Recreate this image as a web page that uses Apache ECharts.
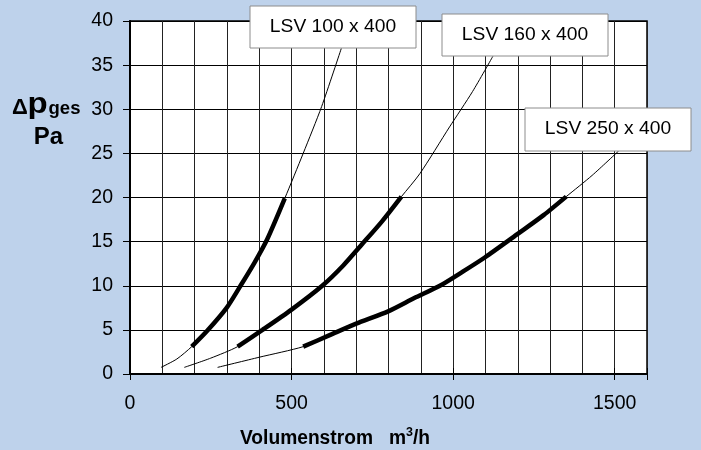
<!DOCTYPE html>
<html>
<head>
<meta charset="utf-8">
<script src="https://cdn.jsdelivr.net/npm/echarts@6/dist/echarts.min.js"></script>
<style>
html,body{margin:0;padding:0;background:#bed2eb;}
#c{width:701px;height:450px;}
</style>
</head>
<body>
<div id="c"></div>
<script>
// Data (x: Volumenstrom m3/h, y: Δp Pa)
const lsv100 = [[96,0.75],[145,1.7],[191,3.1],[239,4.9],[299,7.5],[342,10.0],[385,12.6],[425,15.3],[479,19.9],[536,25.0],[593,30.3],[654,36.9]];
const lsv160 = [[168,0.75],[250,1.8],[333,3.1],[410,5.0],[500,7.3],[595,10.0],[660,12.3],[718,14.7],[780,17.3],[840,20.1],[897,22.7],[989,28.0],[1060,32.0],[1123,36.0]];
const lsv250 = [[271,0.75],[400,1.9],[536,3.1],[618,4.4],[700,5.7],[799,7.1],[880,8.6],[959,10.0],[1030,11.6],[1098,13.2],[1201,15.9],[1280,18.0],[1350,20.1],[1430,22.5],[1513,25.3]];
// ranges of the bold (operating) part of each curve
const thick100 = [191, 479];
const thick160 = [333, 840];
const thick250 = [536, 1350];
const curveNames = ['LSV 100 x 400', 'LSV 160 x 400', 'LSV 250 x 400'];
const xTicks = [0, 500, 1000, 1500];
const yTicks = [0, 5, 10, 15, 20, 25, 30, 35, 40];

const FONT = '"Liberation Sans", Arial, sans-serif';
const curves = [lsv100, lsv160, lsv250];
const thicks = [thick100, thick160, thick250];

const series = [];
curves.forEach((c, i) => {
  series.push({type:'line', data:c, smooth:0.25, symbol:'none', xAxisIndex:0, yAxisIndex:0,
    lineStyle:{color:'#000', width:1}, z:3, silent:true});
  series.push({type:'line', data:c.filter(p => p[0] >= thicks[i][0] && p[0] <= thicks[i][1]), smooth:0.25, symbol:'none',
    xAxisIndex:0, yAxisIndex:0, lineStyle:{color:'#000', width:4.5, cap:'butt'}, z:4, silent:true});
});

const chart = echarts.init(document.getElementById('c'), null, {renderer:'canvas'});
const boxes = [
  {x:250, y:6, w:166, h:42},
  {x:442, y:14, w:166, h:42},
  {x:525, y:108, w:166, h:43}
];
const graphic = [];
boxes.forEach((b, i) => {
  graphic.push({type:'rect', shape:{x:b.x, y:b.y, width:b.w, height:b.h}, z:100,
    style:{fill:'#fff', stroke:'#8c8c8c', lineWidth:1}});
  graphic.push({type:'text', x:b.x + b.w/2, y:b.y + b.h/2, z:101, scaleX:1.1,
    style:{text:curveNames[i], fill:'#000', font:'17.5px ' + FONT, textAlign:'center', textVerticalAlign:'middle'}});
});
graphic.push({type:'text', x:12, y:108, z:101,
  style:{text:'Δ', font:'bold 22px ' + FONT, fill:'#000', textVerticalAlign:'middle'}});
graphic.push({type:'text', x:27.5, y:105, z:101, scaleX:1.1,
  style:{text:'p', font:'bold 30px ' + FONT, fill:'#000', textVerticalAlign:'middle'}});
graphic.push({type:'text', x:48.5, y:109, z:101, scaleX:1.03,
  style:{text:'ges', font:'bold 18px ' + FONT, fill:'#000', textVerticalAlign:'middle'}});
graphic.push({type:'text', x:48.5, y:137, z:101,
  style:{text:'Pa', font:'bold 24px ' + FONT, fill:'#000', textAlign:'center', textVerticalAlign:'middle'}});
graphic.push({type:'text', x:335, y:438, z:101, scaleX:0.96,
  style:{text:'{a|Volumenstrom   m}{sup|3}{a|/h}', textAlign:'center', textVerticalAlign:'middle',
    rich:{a:{fontSize:20, fontWeight:'bold', fontFamily:FONT, fill:'#000'},
          sup:{fontSize:13, fontWeight:'bold', fontFamily:FONT, fill:'#000', padding:[0,0,11,0]}}}});

chart.setOption({
  backgroundColor:'#bed2eb',
  animation:false,
  grid:{left:130, right:54, top:21, bottom:76, show:true, backgroundColor:'#fff', borderColor:'#000', borderWidth:1.5},
  xAxis:[
    {type:'value', min:0, max:1600, interval:100, position:'bottom',
      axisLine:{show:true, onZero:false, lineStyle:{color:'#000', width:2}},
      axisTick:{show:false}, axisLabel:{show:false},
      splitLine:{show:true, lineStyle:{color:'#222', width:1}}},
    {type:'value', min:0, max:1600, interval:500, position:'bottom',
      axisLine:{show:false}, splitLine:{show:false},
      axisTick:{show:true, inside:true, length:6, lineStyle:{color:'#000', width:1}},
      axisLabel:{show:true, margin:20, fontSize:19.5, fontFamily:FONT, color:'#000',
        formatter: v => xTicks.indexOf(v) >= 0 ? String(v) : ''}},
    {type:'value', min:0, max:1600, interval:500, position:'bottom',
      axisLine:{show:false}, splitLine:{show:false},
      axisTick:{show:true, inside:false, length:6, lineStyle:{color:'#000', width:1}},
      axisLabel:{show:false}}
  ],
  yAxis:{type:'value', min:0, max:40, interval:5,
    axisLine:{show:true, lineStyle:{color:'#000', width:2}},
    axisTick:{show:true, length:7, lineStyle:{color:'#000', width:1}},
    axisLabel:{margin:17, fontSize:19.5, fontFamily:FONT, color:'#000',
      formatter: v => yTicks.indexOf(v) >= 0 ? String(v) : ''},
    splitLine:{show:true, lineStyle:{color:'#000', width:1}}},
  series:series,
  graphic:graphic
});
</script>
</body>
</html>
